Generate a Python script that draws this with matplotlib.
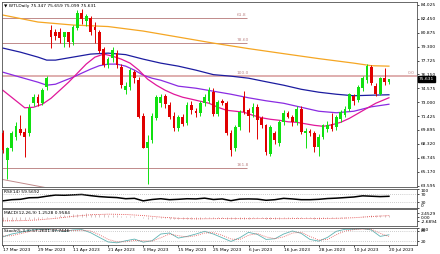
import numpy as np
import matplotlib.pyplot as plt
from matplotlib.transforms import blended_transform_factory

# ---- daily candles, 17 Mar 2023 .. 20 Jul 2023 (bar index 0..88) ----
opens = [69.6, 66.5, 67.8, 69.1, 70.0, 69.7, 69.5, 72.9, 73.6, 72.9,
         74.7, 81.2, 81.0, 80.9, 80.4, 80.9, 79.8, 81.4, 83.1, 82.2,
         82.5, 81.5, 80.9, 79.0, 77.2, 78.0, 78.6, 77.0, 74.4, 74.7,
         76.4, 75.5, 71.5, 67.9, 68.7, 71.2, 72.9, 73.7, 72.7, 71.5,
         70.1, 71.3, 70.7, 72.7, 72.0, 71.8, 72.9, 73.1, 74.2, 71.7,
         73.2, 72.9, 69.5, 67.8, 70.2, 73.6, 72.1, 71.8, 72.5, 71.2,
         70.4, 67.2, 69.5, 68.4, 70.8, 71.8, 71.4, 70.8, 72.3, 69.5,
         69.8, 69.5, 68.0, 69.1, 70.0, 70.6, 70.2, 71.1, 71.6, 72.2,
         73.7, 73.3, 74.6, 75.5, 77.0, 74.9, 74.0, 75.7, 75.347]
highs = [69.9, 68.0, 69.8, 70.8, 71.6, 70.1, 72.8, 73.9, 73.9, 74.6,
         76.0, 81.7, 81.3, 81.4, 81.0, 81.0, 81.7, 83.4, 83.5, 83.0,
         82.7, 82.1, 81.2, 79.2, 78.1, 79.2, 78.9, 77.3, 75.3, 76.9,
         76.7, 75.9, 71.8, 69.3, 71.8, 73.8, 74.0, 74.0, 73.0, 71.9,
         71.6, 71.7, 73.0, 73.2, 72.4, 73.1, 73.9, 74.7, 74.6, 73.3,
         73.4, 73.2, 69.9, 70.4, 72.1, 74.3, 72.4, 72.9, 72.8, 71.5,
         70.6, 70.4, 69.8, 71.0, 72.1, 72.0, 71.6, 72.6, 72.6, 70.1,
         70.0, 69.8, 69.4, 70.6, 70.9, 71.8, 71.6, 72.1, 72.6, 74.1,
         74.0, 75.0, 76.0, 77.3, 77.2, 75.2, 75.9, 76.9, 75.659]
lows = [67.3, 64.4, 67.5, 68.8, 69.3, 66.8, 69.2, 72.6, 72.6, 72.7,
        74.4, 79.1, 80.0, 79.7, 79.3, 79.2, 79.5, 81.2, 81.8, 81.6,
        80.6, 79.7, 78.6, 77.0, 76.9, 77.6, 76.9, 74.6, 74.0, 74.4,
        75.2, 71.2, 67.8, 63.8, 68.4, 71.0, 72.5, 72.4, 71.1, 69.8,
        69.8, 70.3, 70.4, 71.7, 71.3, 71.5, 72.6, 72.9, 71.5, 71.5,
        72.7, 69.3, 67.0, 67.5, 69.9, 71.7, 69.7, 71.3, 68.9, 70.1,
        67.1, 66.9, 68.3, 68.1, 70.5, 71.2, 70.3, 70.5, 69.4, 67.8,
        69.2, 67.4, 67.0, 68.9, 69.7, 69.8, 69.9, 70.8, 71.3, 72.0,
        72.7, 73.0, 74.3, 75.2, 75.0, 73.7, 73.8, 75.0, 75.099]
closes = [67.6, 67.8, 69.5, 70.3, 69.6, 69.1, 72.4, 73.6, 72.9, 74.4,
          75.8, 80.4, 80.5, 80.3, 80.9, 79.8, 81.5, 83.1, 82.4, 82.7,
          80.9, 81.2, 78.8, 77.2, 77.9, 78.9, 77.2, 75.0, 74.9, 76.6,
          75.7, 71.3, 67.9, 68.5, 71.5, 73.6, 73.6, 72.8, 71.3, 70.1,
          71.3, 70.6, 72.7, 72.1, 71.8, 72.9, 73.6, 74.4, 71.7, 73.05,
          72.9, 69.5, 67.6, 70.2, 71.9, 71.9, 71.5, 72.5, 71.0, 70.4,
          67.4, 70.2, 68.7, 70.8, 71.8, 71.4, 70.8, 72.3, 69.7, 69.8,
          69.5, 68.0, 69.1, 70.4, 70.5, 70.0, 71.3, 71.9, 72.3, 73.9,
          73.1, 74.7, 75.8, 77.1, 75.2, 74.0, 75.7, 75.3, 75.631]

# ---- moving averages ----
orange_idx = [0, 8, 16, 24, 32, 40, 48, 56, 64, 72, 80, 84, 88]
orange_val = [82.86, 82.07, 81.73, 81.56, 81.05, 80.37, 79.69, 79.07, 78.50,
              77.94, 77.43, 77.14, 77.09]
blue_idx = [0, 4, 8, 10, 12, 16, 20, 24, 28, 32, 36, 40, 44, 48, 52, 56, 60,
            64, 68, 72, 76, 80, 84, 88]
blue_val = [79.13, 78.67, 78.11, 77.77, 77.77, 78.11, 78.45, 78.56, 78.39,
            77.88, 77.43, 77.09, 76.64, 76.13, 75.96, 75.73, 75.33, 74.94,
            74.48, 74.15, 73.92, 73.75, 73.81, 73.86]
purple_idx = [0, 4, 8, 10, 12, 14, 16, 18, 20, 22, 24, 26, 28, 30, 32, 34, 36,
              38, 40, 44, 48, 52, 56, 60, 64, 68, 72, 76, 80, 84, 88]
purple_val = [76.41, 75.84, 75.28, 74.94, 75.05, 75.45, 75.84, 76.30, 76.75,
              77.14, 77.32, 77.32, 77.09, 76.64, 76.07, 75.73, 75.50, 75.17,
              74.83, 74.60, 74.26, 73.92, 73.52, 73.18, 72.90, 72.45, 72.00,
              71.83, 72.00, 72.50, 72.79]
pink_idx = [0, 2, 4, 5, 7, 9, 11, 13, 15, 17, 19, 21, 23, 25, 27, 29, 31, 33,
            35, 37, 39, 41, 43, 45, 47, 49, 51, 53, 55, 57, 59, 61, 63, 65, 67,
            69, 71, 73, 75, 77, 79, 81, 83, 85, 88]
pink_val = [74.37, 73.58, 72.79, 72.39, 72.45, 72.79, 73.47, 74.37, 75.28,
            76.30, 77.32, 78.11, 78.45, 78.22, 77.88, 77.43, 76.64, 75.62,
            74.94, 74.37, 73.92, 73.58, 73.36, 73.13, 72.90, 72.45, 72.11,
            72.00, 71.88, 71.54, 71.26, 71.09, 70.98, 70.81, 70.75, 70.58,
            70.41, 70.30, 70.47, 70.75, 71.20, 71.77, 72.34, 72.90, 73.52]

# fibonacci levels
fib_names = ['61.8', '78.60', '100.0', '161.8']
fib_vals = [82.47, 79.66, 75.96, 65.63]

# ---- indicators ----
osc_idx = list(range(0, 89, 2))
rsi_val = [36, 42, 44, 52, 53, 60, 66, 65, 67, 69, 63, 58, 55, 53, 47, 49, 36,
           43, 47, 42, 44, 47, 46, 50, 43, 46, 37, 45, 46, 45, 39, 42, 49, 46,
           42, 42, 44, 48, 50, 53, 56, 62, 60, 58, 59.57]
macd_val = [-2.30, -2.28, -2.22, -2.10, -1.92, -1.75, -1.45, -1.15, -0.90, -0.62,
            -0.30, 0.35, 0.80, 1.15, 1.40, 1.55, 1.75, 2.05, 2.25, 2.35,
            2.30, 2.25, 2.05, 1.80, 1.60, 1.45, 1.25, 0.95, 0.70, 0.60,
            0.40, 0.00, -0.55, -0.90, -0.95, -0.85, -0.80, -0.85, -0.95, -1.10,
            -1.15, -1.20, -1.10, -1.05, -1.00, -0.92, -0.82, -0.70, -0.80, -0.82,
            -0.80, -1.00, -1.25, -1.20, -1.05, -0.95, -0.90, -0.82, -0.80, -0.85,
            -1.05, -1.05, -1.10, -0.95, -0.80, -0.75, -0.75, -0.65, -0.75, -0.80,
            -0.85, -0.95, -0.95, -0.88, -0.80, -0.75, -0.65, -0.48, -0.30, -0.05,
            0.10, 0.35, 0.62, 1.00, 1.15, 1.10, 1.18, 1.22, 1.25]
sig_idx = list(range(0, 89, 4))
sig_val = [-2.4, -2.3, -1.8, -0.8, 0.5, 1.5, 1.9, 1.7, 1.0, 0.0, -0.8, -1.1,
           -1.0, -0.9, -1.0, -0.9, -1.0, -0.9, -0.9, -0.8, -0.4, 0.4, 0.96]
stoch_main = [45, 62, 72, 84, 88, 90, 84, 78, 86, 88, 70, 42, 15, 10, 22, 32,
              14, 22, 62, 68, 38, 48, 62, 78, 62, 40, 18, 40, 72, 60, 30, 34,
              62, 80, 66, 30, 20, 42, 78, 90, 90, 94, 86, 48, 57.3]
stoch_sig = [50, 52, 64, 76, 85, 88, 86, 82, 82, 85, 80, 58, 30, 16, 16, 24,
             22, 20, 40, 62, 52, 45, 52, 68, 70, 55, 32, 30, 55, 65, 45, 34,
             45, 68, 72, 48, 26, 30, 58, 80, 88, 91, 90, 66, 47.7]

price_ticks = [84.025, 82.450, 80.875, 79.300, 77.725, 76.150, 74.575, 73.000,
               71.425, 69.895, 68.320, 66.745, 65.170, 63.595]
date_idx = [0, 8, 16, 24, 32, 40, 48, 56, 64, 72, 80, 88]
date_lbl = ['17 Mar 2023', '29 Mar 2023', '11 Apr 2023', '21 Apr 2023',
            '3 May 2023', '15 May 2023', '25 May 2023', '6 Jun 2023',
            '16 Jun 2023', '28 Jun 2023', '10 Jul 2023', '20 Jul 2023']

FS = 3.2
W, H = 440, 254


def rect(top, bot, left=1.5, right=417):
    return [left / W, 1 - bot / H, (right - left) / W, (bot - top) / H]


fig = plt.figure(figsize=(4.4, 2.54), dpi=100)
ax = fig.add_axes(rect(2, 187))
ax_rsi = fig.add_axes(rect(188.5, 207.8))
ax_macd = fig.add_axes(rect(209.3, 226))
ax_st = fig.add_axes(rect(227.6, 244.5))
axes = [ax, ax_rsi, ax_macd, ax_st]

for a in axes:
    a.set_xlim(-0.3, 94.4)
    a.yaxis.tick_right()
    a.tick_params(axis='y', length=1.5, width=0.5, pad=1, labelsize=FS)
    a.tick_params(axis='x', length=0, labelbottom=False)
    for s in a.spines.values():
        s.set_color('#505050')
        s.set_linewidth(0.6)

# ---- candles ----
x = np.arange(len(closes))
o = np.array(opens)
c = np.array(closes)
up = c >= o
col = np.where(up, '#10e010', '#e00000')
ax.vlines(x, lows, highs, colors=col, linewidth=0.7, zorder=3)
ax.bar(x, np.maximum(np.abs(c - o), 0.06), bottom=np.minimum(o, c), width=0.62,
       color=col, linewidth=0, zorder=4)

ax.plot(orange_idx, orange_val, color='#f5a623', lw=0.9, zorder=2)
ax.plot(blue_idx, blue_val, color='#1c1ca0', lw=0.9, zorder=2)
ax.plot(purple_idx, purple_val, color='#8a2be2', lw=0.9, zorder=2)
ax.plot(pink_idx, pink_val, color='#e0189a', lw=0.9, zorder=2)

fib_col = '#c08a8a'
for name, v in zip(fib_names, fib_vals):
    if name == '100.0':
        ax.axhline(v, color='#dca8a8', lw=1.3, zorder=1)
    else:
        ax.hlines(v, -0.3, 55.7, color=fib_col, lw=0.7, zorder=1)
    ax.text(53.3, v + 0.12, name, fontsize=FS, color=fib_col, va='bottom')
ax.text(92.3, fib_vals[2] + 0.12, '0.0', fontsize=FS, color=fib_col, va='bottom')
ax.plot([-0.3, 10.0], [64.32, 63.36], color=fib_col, lw=0.7, zorder=1)

ax.set_ylim(63.45, 84.33)
ax.set_yticks(price_ticks)
ax.set_yticklabels(['%.3f' % v for v in price_ticks])
ax.text(0.006, 0.99, '\u25bc WTI,Daily 75.347 75.659 75.099 75.631',
        transform=ax.transAxes, fontsize=FS, va='top', ha='left')
tr = blended_transform_factory(ax.transAxes, ax.transData)
ax.text(1.004, closes[-1], '%.3f' % closes[-1], transform=tr, fontsize=FS,
        color='white', va='center', ha='left',
        bbox=dict(facecolor='black', edgecolor='black', pad=0.5))

# ---- RSI ----
ax_rsi.plot(osc_idx, rsi_val, color='black', lw=1.1)
for lv in (70, 30):
    ax_rsi.axhline(lv, color='#a0a0a0', lw=0.5, ls=(0, (1, 2)))
ax_rsi.set_ylim(0, 100)
ax_rsi.set_yticks([100, 70, 30, 0])
ax_rsi.set_yticklabels(['100', '70', '30', '0'])
rl = ax_rsi.get_yticklabels()
rl[0].set_va('top')
rl[3].set_va('bottom')
ax_rsi.text(0.006, 0.93, 'RSI(14) 59.5692', transform=ax_rsi.transAxes,
            fontsize=FS, va='top')

# ---- MACD ----
ax_macd.vlines(x, 0, macd_val, colors='#c8a8a8', lw=0.5)
ax_macd.plot(sig_idx, sig_val, color='#e03030', lw=0.6, ls=(0, (1, 1.5)))
ax_macd.set_ylim(-5.71, 5.02)
ax_macd.set_yticks([2.4529, 0.0, -2.6894])
ax_macd.set_yticklabels(['2.4529', '0.00', '-2.6894'])
ax_macd.text(0.006, 0.9, 'MACD(12,26,9) 1.2528 0.9584', transform=ax_macd.transAxes,
             fontsize=FS, va='top')

# ---- Stochastic ----
ax_st.plot(osc_idx, stoch_main, color='#5fb3b3', lw=0.6)
ax_st.plot(osc_idx, stoch_sig, color='#e05050', lw=0.6, ls=(0, (1, 1.5)))
for lv in (80, 20):
    ax_st.axhline(lv, color='#a0a0a0', lw=0.5, ls=(0, (1, 2)))
ax_st.set_ylim(0, 100)
ax_st.set_yticks([100, 80, 20])
ax_st.set_yticklabels(['100', '80', '20'])
ax_st.get_yticklabels()[0].set_va('top')
ax_st.text(0.006, 0.92, 'Stoch(5,3,3) 57.2601 47.7446', transform=ax_st.transAxes,
           fontsize=FS, va='top')
ax_st.set_xticks(date_idx)
ax_st.set_xticklabels(date_lbl, ha='left')
ax_st.tick_params(axis='x', length=1.5, width=0.5, pad=1, labelsize=FS,
                  labelbottom=True)

fig.savefig('out.png', dpi=100, facecolor='white')
